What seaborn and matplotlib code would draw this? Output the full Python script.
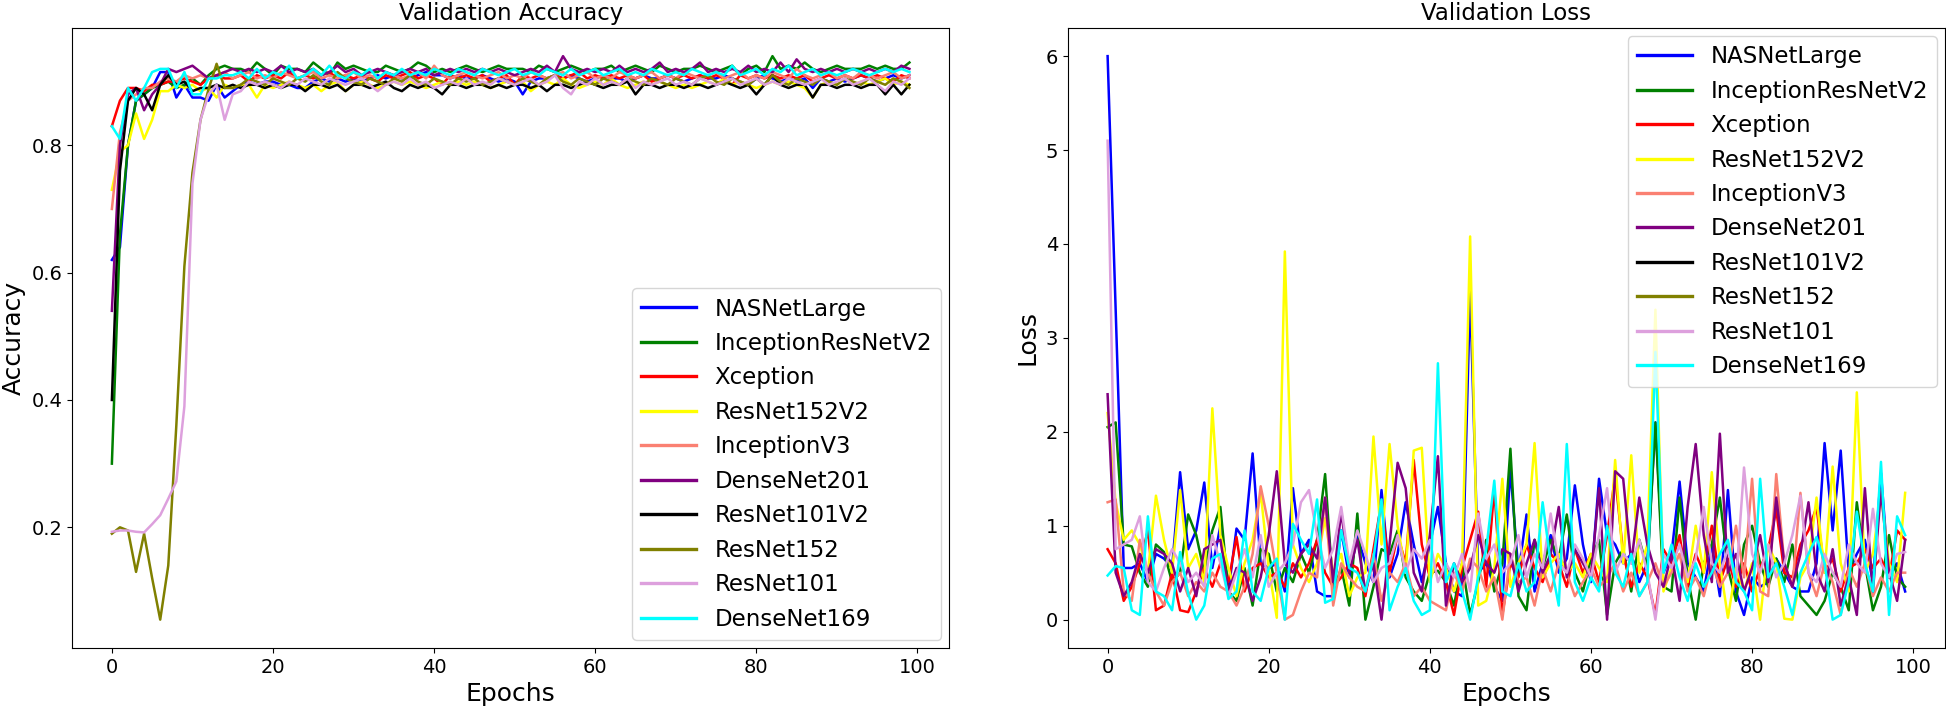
import numpy as np
import pandas as pd
import matplotlib
matplotlib.use("Agg")
import matplotlib.pyplot as plt
import seaborn as sns
from matplotlib.lines import Line2D

# model names and colours
models = ["NASNetLarge", "InceptionResNetV2", "Xception", "ResNet152V2", "InceptionV3",
          "DenseNet201", "ResNet101V2", "ResNet152", "ResNet101", "DenseNet169"]
colors = ["blue", "green", "red", "yellow", "salmon",
          "purple", "black", "olive", "plum", "cyan"]

epochs = list(range(100))

# ---- validation accuracy ----
acc_nasnet = [0.62, 0.64, 0.80, 0.87, 0.88, 0.89, 0.915, 0.915, 0.875, 0.895, 0.875, 0.875, 0.87, 0.895, 0.875,
              0.885, 0.895, 0.90, 0.895, 0.90, 0.90, 0.895, 0.895, 0.89, 0.89, 0.90, 0.905, 0.90, 0.905, 0.90,
              0.905, 0.90, 0.905, 0.91, 0.905, 0.91, 0.905, 0.905, 0.91, 0.915, 0.91, 0.91, 0.905, 0.91, 0.905,
              0.905, 0.91, 0.905, 0.90, 0.905, 0.90, 0.88, 0.90, 0.905, 0.905, 0.91, 0.905, 0.91, 0.905, 0.90,
              0.905, 0.91, 0.905, 0.905, 0.90, 0.905, 0.91, 0.905, 0.905, 0.91, 0.905, 0.90, 0.905, 0.91, 0.905,
              0.905, 0.91, 0.905, 0.90, 0.895, 0.905, 0.91, 0.905, 0.90, 0.905, 0.90, 0.905, 0.89, 0.905, 0.90,
              0.905, 0.90, 0.905, 0.91, 0.905, 0.90, 0.905, 0.91, 0.905, 0.91]
acc_incresv2 = [0.30, 0.66, 0.80, 0.87, 0.88, 0.89, 0.895, 0.90, 0.89, 0.895, 0.905, 0.895, 0.91, 0.92, 0.925,
                0.92, 0.92, 0.915, 0.93, 0.92, 0.91, 0.925, 0.92, 0.92, 0.915, 0.93, 0.92, 0.91, 0.93, 0.92,
                0.925, 0.92, 0.915, 0.915, 0.925, 0.92, 0.915, 0.92, 0.93, 0.925, 0.915, 0.92, 0.915, 0.92, 0.925,
                0.92, 0.915, 0.92, 0.925, 0.92, 0.92, 0.92, 0.915, 0.925, 0.92, 0.915, 0.92, 0.925, 0.92, 0.915,
                0.92, 0.92, 0.925, 0.915, 0.92, 0.925, 0.92, 0.915, 0.925, 0.92, 0.915, 0.92, 0.92, 0.925, 0.92,
                0.915, 0.92, 0.925, 0.91, 0.92, 0.925, 0.915, 0.94, 0.92, 0.925, 0.92, 0.93, 0.92, 0.915, 0.92,
                0.925, 0.92, 0.92, 0.92, 0.925, 0.92, 0.925, 0.92, 0.92, 0.93]
acc_xception = [0.83, 0.87, 0.89, 0.89, 0.885, 0.895, 0.895, 0.90, 0.90, 0.905, 0.90, 0.895, 0.905, 0.91, 0.905,
                0.905, 0.91, 0.90, 0.91, 0.905, 0.91, 0.905, 0.915, 0.905, 0.91, 0.905, 0.91, 0.915, 0.905, 0.91,
                0.905, 0.91, 0.905, 0.90, 0.91, 0.905, 0.91, 0.915, 0.905, 0.91, 0.905, 0.895, 0.91, 0.905, 0.91,
                0.905, 0.91, 0.90, 0.905, 0.91, 0.895, 0.91, 0.905, 0.91, 0.905, 0.91, 0.905, 0.91, 0.915, 0.905,
                0.91, 0.905, 0.91, 0.905, 0.91, 0.905, 0.91, 0.90, 0.905, 0.91, 0.905, 0.91, 0.905, 0.91, 0.905,
                0.91, 0.905, 0.895, 0.91, 0.905, 0.91, 0.905, 0.91, 0.905, 0.91, 0.905, 0.91, 0.90, 0.905, 0.91,
                0.905, 0.91, 0.905, 0.91, 0.905, 0.91, 0.905, 0.90, 0.91, 0.905]
acc_resnet152v2 = [0.73, 0.79, 0.80, 0.85, 0.81, 0.84, 0.885, 0.885, 0.895, 0.89, 0.895, 0.885, 0.89, 0.875, 0.895,
                   0.89, 0.895, 0.895, 0.875, 0.895, 0.89, 0.895, 0.90, 0.895, 0.89, 0.895, 0.885, 0.895, 0.90, 0.885,
                   0.895, 0.90, 0.895, 0.89, 0.895, 0.90, 0.895, 0.90, 0.895, 0.89, 0.895, 0.90, 0.895, 0.90, 0.895,
                   0.90, 0.895, 0.89, 0.895, 0.90, 0.895, 0.90, 0.885, 0.895, 0.90, 0.895, 0.905, 0.895, 0.89, 0.895,
                   0.90, 0.895, 0.905, 0.895, 0.89, 0.895, 0.90, 0.895, 0.90, 0.895, 0.89, 0.895, 0.89, 0.895, 0.90,
                   0.895, 0.905, 0.895, 0.90, 0.895, 0.89, 0.895, 0.90, 0.895, 0.90, 0.895, 0.89, 0.875, 0.895, 0.90,
                   0.895, 0.905, 0.895, 0.90, 0.895, 0.90, 0.905, 0.895, 0.90, 0.895]
acc_inceptionv3 = [0.70, 0.82, 0.87, 0.88, 0.89, 0.89, 0.90, 0.905, 0.90, 0.91, 0.905, 0.91, 0.905, 0.91, 0.915,
                   0.905, 0.91, 0.915, 0.905, 0.91, 0.905, 0.915, 0.91, 0.905, 0.91, 0.915, 0.905, 0.91, 0.905, 0.91,
                   0.915, 0.905, 0.91, 0.905, 0.915, 0.91, 0.905, 0.91, 0.915, 0.905, 0.925, 0.91, 0.905, 0.91, 0.915,
                   0.91, 0.905, 0.91, 0.915, 0.905, 0.91, 0.905, 0.915, 0.91, 0.905, 0.91, 0.915, 0.905, 0.91, 0.915,
                   0.905, 0.91, 0.905, 0.915, 0.91, 0.905, 0.91, 0.915, 0.905, 0.91, 0.905, 0.915, 0.91, 0.905, 0.91,
                   0.915, 0.905, 0.91, 0.915, 0.905, 0.91, 0.905, 0.915, 0.91, 0.905, 0.92, 0.91, 0.905, 0.91, 0.915,
                   0.905, 0.91, 0.905, 0.915, 0.91, 0.905, 0.91, 0.915, 0.905, 0.91]
acc_densenet201 = [0.54, 0.80, 0.88, 0.89, 0.855, 0.88, 0.895, 0.92, 0.915, 0.92, 0.925, 0.915, 0.905, 0.91, 0.915,
                   0.92, 0.915, 0.92, 0.915, 0.92, 0.915, 0.925, 0.915, 0.92, 0.915, 0.92, 0.91, 0.915, 0.925, 0.915,
                   0.92, 0.91, 0.915, 0.92, 0.915, 0.91, 0.915, 0.92, 0.915, 0.92, 0.91, 0.915, 0.92, 0.915, 0.92,
                   0.915, 0.92, 0.915, 0.92, 0.915, 0.91, 0.915, 0.92, 0.915, 0.925, 0.915, 0.94, 0.92, 0.915, 0.92,
                   0.915, 0.92, 0.915, 0.925, 0.915, 0.92, 0.915, 0.92, 0.93, 0.915, 0.92, 0.915, 0.92, 0.93, 0.915,
                   0.92, 0.915, 0.92, 0.915, 0.925, 0.915, 0.92, 0.915, 0.93, 0.915, 0.935, 0.92, 0.915, 0.92, 0.915,
                   0.92, 0.915, 0.92, 0.915, 0.92, 0.915, 0.92, 0.915, 0.925, 0.92]
acc_resnet101v2 = [0.40, 0.76, 0.87, 0.89, 0.88, 0.855, 0.895, 0.91, 0.895, 0.90, 0.885, 0.89, 0.89, 0.895, 0.89,
                   0.895, 0.89, 0.895, 0.895, 0.89, 0.895, 0.89, 0.895, 0.895, 0.885, 0.895, 0.895, 0.89, 0.895, 0.885,
                   0.895, 0.895, 0.89, 0.895, 0.90, 0.89, 0.885, 0.895, 0.89, 0.895, 0.89, 0.88, 0.895, 0.895, 0.89,
                   0.895, 0.895, 0.89, 0.895, 0.89, 0.895, 0.895, 0.89, 0.895, 0.885, 0.895, 0.895, 0.89, 0.895, 0.90,
                   0.895, 0.89, 0.895, 0.895, 0.90, 0.88, 0.895, 0.895, 0.89, 0.895, 0.895, 0.89, 0.895, 0.895, 0.89,
                   0.895, 0.90, 0.895, 0.89, 0.895, 0.88, 0.895, 0.91, 0.895, 0.89, 0.895, 0.895, 0.875, 0.895, 0.895,
                   0.89, 0.895, 0.895, 0.89, 0.895, 0.895, 0.88, 0.895, 0.88, 0.895]
acc_resnet152 = [0.19, 0.20, 0.195, 0.13, 0.19, 0.12, 0.055, 0.14, 0.36, 0.61, 0.757, 0.84, 0.888, 0.928, 0.89,
                 0.89, 0.895, 0.905, 0.90, 0.895, 0.905, 0.90, 0.895, 0.905, 0.90, 0.91, 0.90, 0.895, 0.915, 0.905,
                 0.90, 0.895, 0.905, 0.90, 0.895, 0.905, 0.90, 0.91, 0.90, 0.895, 0.905, 0.90, 0.895, 0.905, 0.90,
                 0.905, 0.895, 0.90, 0.905, 0.90, 0.895, 0.905, 0.90, 0.895, 0.905, 0.91, 0.90, 0.895, 0.905, 0.90,
                 0.895, 0.905, 0.90, 0.895, 0.905, 0.90, 0.895, 0.905, 0.90, 0.895, 0.905, 0.90, 0.895, 0.905, 0.91,
                 0.90, 0.895, 0.905, 0.90, 0.895, 0.905, 0.895, 0.91, 0.90, 0.895, 0.905, 0.90, 0.895, 0.905, 0.90,
                 0.895, 0.905, 0.90, 0.895, 0.905, 0.90, 0.895, 0.905, 0.90, 0.89]
acc_resnet101 = [0.193, 0.195, 0.195, 0.193, 0.192, 0.205, 0.219, 0.245, 0.272, 0.39, 0.74, 0.84, 0.88, 0.895, 0.84,
                 0.88, 0.885, 0.90, 0.895, 0.90, 0.895, 0.89, 0.90, 0.895, 0.905, 0.90, 0.895, 0.905, 0.90, 0.895,
                 0.90, 0.905, 0.895, 0.885, 0.895, 0.90, 0.895, 0.905, 0.895, 0.90, 0.89, 0.895, 0.90, 0.895, 0.905,
                 0.895, 0.90, 0.895, 0.905, 0.90, 0.895, 0.90, 0.905, 0.895, 0.90, 0.91, 0.89, 0.88, 0.90, 0.895,
                 0.905, 0.895, 0.90, 0.895, 0.905, 0.89, 0.90, 0.895, 0.90, 0.905, 0.895, 0.90, 0.895, 0.905, 0.90,
                 0.895, 0.90, 0.905, 0.895, 0.90, 0.905, 0.895, 0.90, 0.895, 0.905, 0.90, 0.895, 0.90, 0.905, 0.895,
                 0.90, 0.905, 0.895, 0.90, 0.905, 0.895, 0.885, 0.90, 0.895, 0.905]
acc_densenet169 = [0.83, 0.81, 0.89, 0.87, 0.89, 0.915, 0.92, 0.92, 0.89, 0.915, 0.88, 0.88, 0.905, 0.905, 0.91,
                   0.91, 0.915, 0.905, 0.92, 0.905, 0.915, 0.91, 0.925, 0.905, 0.91, 0.92, 0.91, 0.925, 0.91, 0.905,
                   0.915, 0.91, 0.92, 0.905, 0.915, 0.91, 0.92, 0.91, 0.915, 0.91, 0.92, 0.915, 0.91, 0.92, 0.915,
                   0.91, 0.92, 0.915, 0.91, 0.915, 0.92, 0.91, 0.915, 0.91, 0.92, 0.915, 0.91, 0.92, 0.91, 0.915,
                   0.92, 0.91, 0.915, 0.92, 0.91, 0.915, 0.91, 0.92, 0.915, 0.91, 0.915, 0.91, 0.92, 0.915, 0.91,
                   0.915, 0.91, 0.925, 0.91, 0.915, 0.92, 0.91, 0.92, 0.915, 0.925, 0.91, 0.915, 0.92, 0.91, 0.915,
                   0.91, 0.915, 0.92, 0.915, 0.91, 0.915, 0.92, 0.915, 0.92, 0.915]

# ---- validation loss ----
# ResNet101V2 and ResNet152 show no visible loss line in the picture
loss_nasnet = [6.0, 3.3, 0.55, 0.55, 0.6, 0.4, 0.7, 0.65, 0.55, 1.57, 0.75, 0.95, 1.46, 0.55, 1.0,
               0.3, 0.97, 0.85, 1.77, 0.6, 0.55, 0.6, 0.3, 1.4, 0.7, 0.85, 0.3, 0.25, 0.25, 0.95,
               0.45, 0.9, 0.6, 0.4, 1.38, 0.45, 0.7, 1.25, 0.8, 0.4, 0.8, 1.2, 0.6, 0.3, 0.25,
               3.5, 0.5, 0.6, 0.35, 0.2, 1.6, 0.5, 1.12, 0.3, 0.6, 0.9, 0.5, 0.65, 1.43, 0.8,
               0.4, 1.5, 0.9, 0.8, 0.6, 0.7, 0.4, 0.6, 2.1, 0.5, 0.7, 1.47, 0.6, 0.45, 0.3,
               0.8, 0.25, 1.38, 0.3, 0.05, 0.45, 0.35, 0.4, 0.65, 0.5, 0.35, 0.3, 0.3, 0.6, 1.88,
               0.95, 1.8, 0.5, 0.7, 0.85, 0.4, 1.56, 0.45, 0.6, 0.3]
loss_incresv2 = [2.05, 2.1, 0.8, 0.78, 0.5, 0.35, 0.8, 0.72, 0.4, 0.5, 1.12, 0.9, 0.5, 0.95, 1.2,
                 0.3, 0.2, 0.55, 0.15, 0.75, 0.7, 0.3, 0.55, 0.4, 0.7, 0.5, 0.85, 1.55, 0.3, 0.55,
                 0.15, 1.13, 0.0, 0.35, 0.75, 0.7, 0.95, 0.45, 0.3, 0.2, 0.5, 0.52, 0.4, 0.15, 0.6,
                 0.05, 0.4, 0.85, 0.3, 0.6, 1.82, 0.25, 0.1, 0.85, 0.55, 0.85, 0.65, 1.12, 0.5, 0.3,
                 0.65, 0.85, 0.05, 0.6, 0.75, 0.3, 0.85, 0.55, 2.1, 0.35, 0.3, 1.3, 0.45, 0.0, 0.6,
                 0.8, 1.3, 0.55, 0.2, 0.8, 1.0, 0.6, 0.35, 0.65, 0.4, 0.8, 0.25, 0.15, 0.05, 0.2,
                 0.5, 0.35, 0.1, 1.25, 0.6, 0.1, 0.35, 0.9, 0.45, 0.35]
loss_xception = [0.75, 0.6, 0.2, 0.35, 0.6, 0.95, 0.1, 0.15, 0.5, 0.1, 0.08, 0.3, 0.55, 0.35, 0.6,
                 0.4, 0.88, 0.3, 0.55, 0.6, 0.45, 0.5, 0.35, 0.6, 0.45, 0.6, 0.85, 0.5, 0.35, 0.45,
                 0.6, 0.55, 0.25, 0.75, 1.25, 0.5, 0.9, 0.6, 1.7, 0.8, 0.45, 0.6, 0.4, 0.05, 0.55,
                 0.85, 1.15, 0.35, 1.4, 0.05, 0.6, 0.45, 0.8, 0.55, 0.4, 0.7, 0.6, 0.35, 0.75, 0.5,
                 0.7, 0.4, 0.9, 1.53, 0.7, 0.35, 0.6, 0.45, 0.05, 0.75, 0.6, 0.9, 0.35, 0.7, 0.5,
                 1.0, 0.4, 0.65, 0.35, 0.6, 0.3, 0.55, 0.75, 1.17, 0.5, 0.45, 0.8, 0.95, 1.2, 0.5,
                 0.65, 0.3, 0.55, 0.6, 0.75, 0.55, 0.65, 0.45, 0.95, 0.85]
loss_resnet152v2 = [2.2, 1.25, 0.85, 0.95, 0.8, 0.5, 1.32, 0.85, 0.5, 1.38, 0.55, 0.7, 0.4, 2.25, 0.9,
                    0.55, 0.25, 0.6, 0.85, 1.35, 0.55, 0.02, 3.92, 0.8, 0.55, 0.4, 0.6, 1.08, 0.5, 0.7,
                    0.25, 0.45, 0.5, 1.95, 0.8, 1.87, 1.0, 0.5, 1.8, 1.83, 0.4, 0.7, 0.55, 0.3, 0.6,
                    4.08, 0.15, 0.2, 0.55, 1.5, 0.35, 0.6, 0.8, 1.88, 0.45, 0.6, 0.7, 0.5, 0.6, 0.45,
                    0.7, 0.55, 0.4, 1.7, 0.6, 1.75, 0.5, 0.8, 3.3, 0.3, 0.55, 0.7, 0.4, 1.0, 0.5,
                    1.57, 0.6, 0.02, 0.55, 0.3, 0.6, 0.0, 0.8, 0.6, 0.01, 0.0, 0.45, 0.6, 1.3, 0.5,
                    1.63, 0.6, 0.3, 2.42, 0.5, 0.7, 1.35, 0.6, 0.4, 1.35]
loss_inceptionv3 = [1.25, 1.28, 0.3, 0.2, 0.85, 0.5, 0.3, 0.15, 0.4, 0.5, 0.25, 0.4, 0.3, 0.5, 0.35,
                    0.3, 0.15, 0.35, 0.7, 1.42, 1.0, 0.5, 0.0, 0.05, 0.3, 0.5, 0.45, 1.3, 0.15, 0.6,
                    0.45, 0.35, 0.3, 0.7, 0.2, 0.5, 0.4, 0.6, 0.25, 0.35, 0.2, 0.15, 0.1, 0.5, 0.3,
                    0.65, 0.55, 0.3, 0.45, 0.0, 0.7, 0.4, 0.45, 0.15, 0.55, 0.3, 0.6, 0.5, 0.25, 0.4,
                    0.55, 0.35, 0.45, 0.6, 0.3, 0.5, 0.25, 0.4, 0.6, 0.35, 0.5, 0.7, 0.3, 0.45, 0.25,
                    0.6, 0.35, 0.5, 1.0, 0.45, 1.5, 0.3, 0.25, 1.55, 0.6, 0.35, 1.35, 0.5, 0.25, 0.6,
                    0.4, 0.05, 0.55, 0.35, 0.6, 0.25, 0.45, 0.3, 0.5, 0.5]
loss_densenet201 = [2.4, 0.5, 0.25, 0.4, 0.7, 0.5, 0.75, 0.7, 0.6, 0.3, 0.55, 0.25, 0.75, 0.8, 0.85,
                    0.3, 0.55, 0.5, 0.2, 0.45, 0.9, 1.58, 0.6, 0.5, 0.7, 0.8, 0.65, 1.3, 0.4, 1.15,
                    0.5, 0.85, 0.3, 0.6, 0.0, 0.8, 1.67, 1.4, 0.5, 0.3, 0.9, 1.74, 0.15, 0.6, 0.4,
                    0.55, 0.9, 0.6, 0.5, 0.75, 0.7, 0.3, 0.6, 0.85, 0.5, 0.7, 1.2, 0.45, 0.75, 0.6,
                    0.45, 1.4, 0.0, 1.58, 1.5, 0.6, 1.3, 0.8, 0.5, 0.35, 0.7, 0.2, 1.2, 1.87, 0.9,
                    0.4, 1.98, 0.5, 0.7, 0.3, 0.55, 0.9, 0.4, 1.3, 0.6, 0.35, 0.7, 1.25, 0.5, 0.3,
                    0.75, 0.15, 0.45, 0.05, 1.4, 0.3, 1.38, 0.5, 0.2, 0.85]
loss_resnet101 = [5.1, 0.75, 0.8, 0.85, 1.1, 0.4, 0.3, 0.55, 0.75, 0.6, 0.4, 0.5, 0.35, 0.9, 0.6,
                  0.25, 0.5, 0.75, 0.45, 0.9, 0.35, 0.5, 0.6, 0.8, 1.25, 1.38, 0.9, 0.55, 0.75, 1.2,
                  0.6, 0.95, 0.7, 0.4, 0.55, 0.6, 0.9, 0.5, 0.75, 0.65, 0.85, 0.4, 0.6, 0.45, 0.7,
                  0.3, 1.13, 0.65, 0.8, 0.5, 0.6, 0.9, 0.45, 0.7, 0.55, 1.13, 0.6, 0.5, 0.8, 0.65,
                  0.45, 0.9, 1.4, 0.5, 0.7, 0.6, 0.85, 0.5, 0.0, 0.7, 0.55, 0.8, 0.45, 0.65, 1.2,
                  0.6, 0.5, 0.75, 0.4, 1.62, 0.7, 0.5, 0.8, 0.45, 0.6, 0.9, 1.32, 0.5, 0.4, 0.7,
                  0.5, 0.35, 0.8, 0.6, 0.5, 1.18, 0.6, 0.45, 0.7, 0.72]
loss_densenet169 = [0.47, 0.57, 0.55, 0.1, 0.05, 1.1, 0.3, 0.25, 0.1, 0.72, 0.28, 0.0, 0.15, 0.65, 0.7,
                    0.22, 0.3, 0.95, 0.3, 0.2, 0.55, 0.65, 0.0, 1.02, 0.85, 0.7, 1.28, 0.18, 0.22, 0.95,
                    0.55, 0.5, 0.3, 0.65, 1.28, 0.1, 0.35, 0.55, 0.2, 0.05, 0.1, 2.73, 0.4, 0.6, 0.3,
                    0.0, 0.45, 0.75, 1.48, 0.3, 0.25, 0.6, 0.3, 0.4, 1.25, 0.6, 0.15, 1.87, 0.4, 0.2,
                    0.45, 0.3, 1.0, 0.5, 0.35, 0.7, 0.25, 0.4, 2.85, 0.5, 0.8, 0.45, 0.2, 0.6, 0.35,
                    0.5, 0.7, 0.85, 0.4, 0.3, 0.1, 1.5, 0.45, 0.6, 0.35, 0.05, 0.5, 0.7, 0.88, 0.6,
                    0.0, 0.05, 0.4, 1.15, 0.6, 0.3, 1.68, 0.05, 1.1, 0.9]

acc = {"NASNetLarge": acc_nasnet, "InceptionResNetV2": acc_incresv2, "Xception": acc_xception,
       "ResNet152V2": acc_resnet152v2, "InceptionV3": acc_inceptionv3, "DenseNet201": acc_densenet201,
       "ResNet101V2": acc_resnet101v2, "ResNet152": acc_resnet152, "ResNet101": acc_resnet101,
       "DenseNet169": acc_densenet169}
loss = {"NASNetLarge": loss_nasnet, "InceptionResNetV2": loss_incresv2, "Xception": loss_xception,
        "ResNet152V2": loss_resnet152v2, "InceptionV3": loss_inceptionv3, "DenseNet201": loss_densenet201,
        "ResNet101": loss_resnet101, "DenseNet169": loss_densenet169}

palette = dict(zip(models, colors))


def to_long(d):
    frames = []
    for name, vals in d.items():
        frames.append(pd.DataFrame({"epoch": epochs, "value": vals, "model": name}))
    return pd.concat(frames, ignore_index=True)


df_acc = to_long(acc)
df_loss = to_long(loss)

fig, (ax1, ax2) = plt.subplots(1, 2, figsize=(19.46, 7.08), dpi=100)
fig.subplots_adjust(left=0.037, right=0.9995, bottom=0.085, top=0.9605, wspace=0.135)

sns.lineplot(data=df_acc, x="epoch", y="value", hue="model", hue_order=models,
             palette=palette, linewidth=1.8, ax=ax1, legend=False)
loss_order = [m for m in models if m in loss]
sns.lineplot(data=df_loss, x="epoch", y="value", hue="model", hue_order=loss_order,
             palette=palette, linewidth=1.8, ax=ax2, legend=False)

handles = [Line2D([0], [0], color=c, lw=2.4) for c in colors]

ax1.set_title("Validation Accuracy", fontsize=16.5)
ax1.set_xlabel("Epochs", fontsize=18)
ax1.set_ylabel("Accuracy", fontsize=18)
ax1.set_yticks([0.2, 0.4, 0.6, 0.8])
ax1.legend(handles, models, loc="lower right", fontsize=16.5, handlelength=2.4,
           borderaxespad=0.35)

ax2.set_title("Validation Loss", fontsize=16.5)
ax2.set_xlabel("Epochs", fontsize=18)
ax2.set_ylabel("Loss", fontsize=18)
ax2.legend(handles, models, loc="upper right", fontsize=16.5, handlelength=2.4,
           borderaxespad=0.35)

for ax in (ax1, ax2):
    ax.tick_params(labelsize=14)
    ax.set_xticks([0, 20, 40, 60, 80, 100])

fig.savefig("out.png", dpi=100)
